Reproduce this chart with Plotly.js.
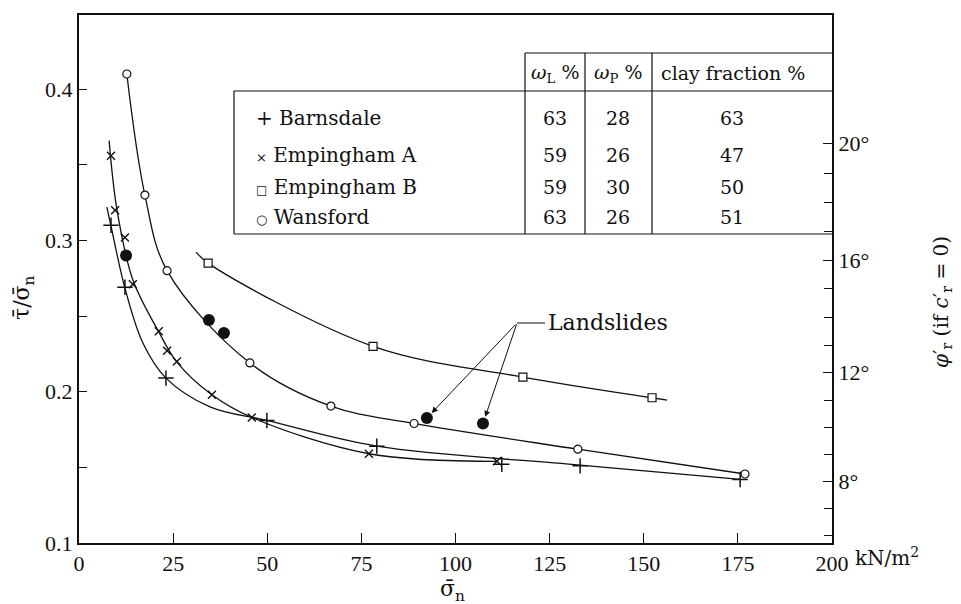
<!DOCTYPE html>
<html>
<head>
<meta charset="utf-8">
<script src="https://cdn.plot.ly/plotly-3.0.1.min.js"></script>
<style>
body{margin:0;background:#fff;}
</style>
</head>
<body>
<div id="chart" style="width:961px;height:604px"></div>
<script>
// ---- data ----
const barnsdaleX = [8.5, 12.2, 23.1, 49.9, 79.1, 112.3, 133.1, 175.6];
const barnsdaleY = [0.310, 0.269, 0.209, 0.181, 0.164, 0.152, 0.151, 0.142];
const barnsdaleCurveX = [7.4, 8.5, 12.2, 17.0, 23.1, 34.8, 49.9, 79.1, 133.1, 175.6];
const barnsdaleCurveY = [0.322, 0.3095, 0.2685, 0.232, 0.209, 0.190, 0.181, 0.164, 0.1515, 0.142];

const empAX = [8.5, 9.6, 12.2, 14.3, 21.2, 23.4, 26.0, 35.3, 45.9, 77.0, 111.0];
const empAY = [0.356, 0.320, 0.302, 0.271, 0.240, 0.227, 0.220, 0.198, 0.183, 0.159, 0.154];
const empACurveX = [8.0, 10.1, 14.3, 21.2, 26.0, 35.3, 45.9, 77.0, 111.0];
const empACurveY = [0.366, 0.320, 0.274, 0.2395, 0.2196, 0.198, 0.183, 0.159, 0.154];

const empBX = [34.3, 78.1, 117.9, 152.2];
const empBY = [0.285, 0.230, 0.2097, 0.196];
const empBCurveX = [31.1, 34.3, 78.1, 117.9, 152.2, 156.2];
const empBCurveY = [0.2923, 0.285, 0.230, 0.2097, 0.196, 0.1945];

const wansX = [12.7, 17.5, 23.4, 45.4, 66.9, 89.0, 132.5, 176.9];
const wansY = [0.410, 0.330, 0.280, 0.219, 0.1905, 0.179, 0.162, 0.1456];

const landX = [12.5, 34.5, 38.5, 92.4, 107.3];
const landY = [0.290, 0.2474, 0.2388, 0.1826, 0.179];

const xTicks = [0, 25, 50, 75, 100, 125, 150, 175, 200];
const xTickText = ['0', '25', '50', '75', '100', '125', '150', '175', '200'];
const yTicks = [0.1, 0.2, 0.3, 0.4];
const yTickText = ['0.1', '0.2', '0.3', '0.4'];
const yMinorTicks = [0.15, 0.25, 0.35];
const phiLabelled = [8, 12, 16, 20];
const phiMinor = [6, 7, 9, 10, 11, 13, 14, 15, 17, 18, 19];

const tableNames = ['+ Barnsdale', '<span style="font-size:13px">×</span> Empingham A',
                    '<span style="font-size:12px">□</span> Empingham B', '<span style="font-size:13px">○</span> Wansford'];
const wL = ['63', '59', '59', '63'];
const wP = ['28', '26', '30', '26'];
const clay = ['63', '47', '50', '51'];
const headers = ['<i>ω</i><sub>L</sub> %', '<i>ω</i><sub>P</sub> %', 'clay fraction %'];

// ---- layout helpers (pixel -> paper / data) ----
const L = 79, R = 832, T = 15, B = 543;
const PX = p => (p - L) / (R - L);
const PY = p => (B - p) / (B - T);
const yMin = 0.1, yMax = 0.449;
const DX = p => (p - L) / (R - L) * 200;
const DY = p => yMin + (B - p) / (B - T) * (yMax - yMin);
const tanDeg = d => Math.tan(d * Math.PI / 180);

const serif = 'DejaVu Serif';
const numFont = 'Liberation Serif';
const ink = '#111';

const curve = (x, y) => ({x, y, mode: 'lines', type: 'scatter', hoverinfo: 'skip',
  line: {color: ink, width: 1.3, shape: 'spline', smoothing: 1}});

const traces = [
  curve(barnsdaleCurveX, barnsdaleCurveY),
  curve(empACurveX, empACurveY),
  curve(empBCurveX, empBCurveY),
  curve(wansX, wansY),
  {x: barnsdaleX, y: barnsdaleY, mode: 'markers', type: 'scatter',
   marker: {symbol: 'cross-thin-open', size: 11, color: ink, line: {color: ink, width: 1.5}}},
  {x: empAX, y: empAY, mode: 'markers', type: 'scatter',
   marker: {symbol: 'x-thin-open', size: 8, color: ink, line: {color: ink, width: 1.4}}},
  {x: empBX, y: empBY, mode: 'markers', type: 'scatter',
   marker: {symbol: 'square', size: 8, color: '#fff', line: {color: ink, width: 1.2}}},
  {x: wansX, y: wansY, mode: 'markers', type: 'scatter',
   marker: {symbol: 'circle', size: 8, color: '#fff', line: {color: ink, width: 1.2}}},
  {x: landX, y: landY, mode: 'markers', type: 'scatter',
   marker: {symbol: 'circle', size: 12, color: ink, line: {color: ink, width: 0}}},
  {x: [null], y: [null], yaxis: 'y2', mode: 'markers', type: 'scatter', hoverinfo: 'skip'}
];

const shapes = [];
const seg = (x0, y0, x1, y1) => shapes.push({type: 'line', xref: 'paper', yref: 'paper',
  x0: PX(x0), y0: PY(y0), x1: PX(x1), y1: PY(y1), line: {color: ink, width: 1.2}});
seg(525, 53, R, 53);
seg(234, 91, R, 91);
seg(234, 234, R, 234);
seg(234, 91, 234, 234);
seg(525, 53, 525, 234);
seg(585, 53, 585, 234);
seg(652, 53, 652, 234);
// landslides leader
shapes.push({type: 'line', xref: 'x', yref: 'y', x0: DX(517), y0: DY(323), x1: DX(545), y1: DY(323),
  line: {color: ink, width: 1}});

const ann = [];
const txt = (text, x, y, size, anchor) => ann.push({text, xref: 'paper', yref: 'paper',
  x: PX(x), y: PY(y), xanchor: anchor || 'center', yanchor: 'middle', showarrow: false,
  font: {size, family: serif, color: ink}});
const headerX = [555, 618, 733];
headers.forEach((h, i) => txt(h, headerX[i], 73, 19));
const rowY = [118, 155, 187, 217];
tableNames.forEach((n, i) => txt(n, 254, rowY[i], 20, 'left'));
wL.forEach((v, i) => txt(v, 555, rowY[i], 19));
wP.forEach((v, i) => txt(v, 618, rowY[i], 19));
clay.forEach((v, i) => txt(v, 732, rowY[i], 19));
txt('kN/m<sup>2</sup>', 853, 557, 20, 'left');
txt('Landslides', 546, 323, 22, 'left');

// arrows to two landslide points
[3, 4].forEach(i => ann.push({x: landX[i], y: landY[i], xref: 'x', yref: 'y',
  ax: DX(517), ay: DY(323), axref: 'x', ayref: 'y', text: '', showarrow: true,
  arrowhead: 2, arrowsize: 1.2, arrowwidth: 1, arrowcolor: ink, standoff: 7}));

// axis titles
ann.push({text: 'τ̄/σ̄<sub>n</sub>', xref: 'paper', yref: 'paper', x: PX(23), y: PY(298),
  textangle: -90, showarrow: false, xanchor: 'center', yanchor: 'middle',
  font: {size: 22, family: serif, color: ink}});
ann.push({text: '<i>φ</i>′<sub>r</sub> (if <i>c</i>′<sub>r</sub> = 0)', xref: 'paper', yref: 'paper',
  x: PX(942), y: PY(302), textangle: -90, showarrow: false, xanchor: 'center', yanchor: 'middle',
  font: {size: 20, family: serif, color: ink}});
ann.push({text: 'σ̄<sub>n</sub>', xref: 'paper', yref: 'paper', x: PX(452), y: PY(590),
  showarrow: false, xanchor: 'center', yanchor: 'middle', font: {size: 22, family: serif, color: ink}});

const axisCommon = {showgrid: false, zeroline: false, showline: true, linecolor: ink, linewidth: 2,
  ticks: 'inside', tickcolor: ink, tickwidth: 1.3, tickfont: {size: 22, family: numFont, color: ink},
  tickmode: 'array'};

const layout = {
  width: 961, height: 604,
  margin: {l: L, r: 961 - R, t: T, b: 604 - B},
  paper_bgcolor: '#fff', plot_bgcolor: '#fff',
  showlegend: false,
  font: {family: numFont, size: 22, color: ink},
  xaxis: Object.assign({}, axisCommon, {range: [0, 200], tickvals: xTicks, ticktext: xTickText,
    ticklen: 10, mirror: true}),
  yaxis: Object.assign({}, axisCommon, {range: [yMin, yMax], tickvals: yTicks, ticktext: yTickText,
    ticklen: 8, minor: {tickmode: 'array', tickvals: yMinorTicks, ticks: 'inside', ticklen: 8,
    tickcolor: ink, tickwidth: 1.3, showgrid: false}}),
  yaxis2: Object.assign({}, axisCommon, {range: [yMin, yMax], overlaying: 'y', side: 'right',
    tickvals: phiLabelled.map(tanDeg), ticktext: phiLabelled.map(d => d + '°'), ticklen: 9,
    minor: {tickmode: 'array', tickvals: phiMinor.map(tanDeg), ticks: 'inside', ticklen: 8,
    tickcolor: ink, tickwidth: 1.3, showgrid: false}}),
  shapes, annotations: ann
};

Plotly.newPlot('chart', traces, layout, {displayModeBar: false});
</script>
</body>
</html>
